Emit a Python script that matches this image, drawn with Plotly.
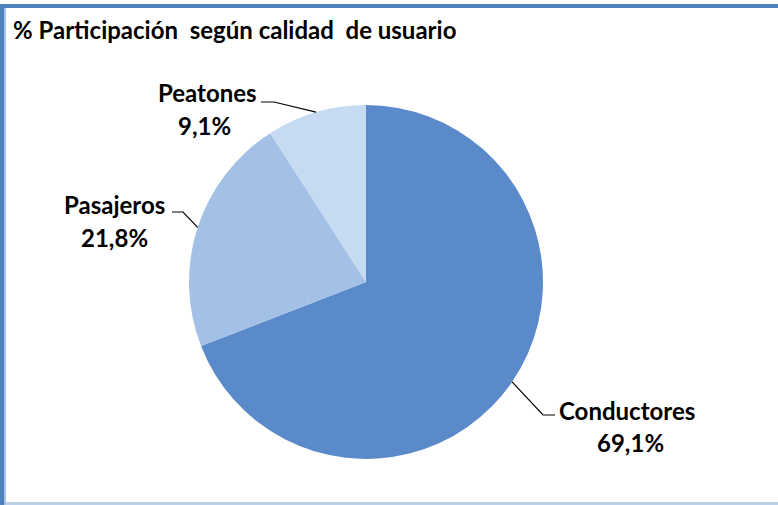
import math
import plotly.graph_objects as go

# ---- data ----
categories = ["Conductores", "Pasajeros", "Peatones"]
values = [69.1, 21.8, 9.1]
pct_labels = ["69,1%", "21,8%", "9,1%"]
title_text = "% Participación\u00a0 según calidad\u00a0 de usuario"

# ---- style ----
W, H = 778, 505
colors = ["#5A8ACA", "#A3C0E6", "#C6DAF2"]
CX, CY, R = 366, 282, 177  # pie centre / radius in px (layout)
FONT = "Lato"
FS = 24
# label styling per slice: elbow point, tail end, name centre, pct centre (px)
label_style = {
    "Conductores": dict(elbow=(543, 415), tail=(555, 415), name=(627, 410), pct=(630, 442)),
    "Pasajeros": dict(elbow=(183, 212), tail=(172, 212), name=(115, 204), pct=(115, 237)),
    "Peatones": dict(elbow=(274, 102), tail=(261, 102), name=(207, 93), pct=(204, 125)),
}


def px(x):
    return x / W


def py(y):
    return 1 - y / H


fig = go.Figure(go.Pie(
    labels=categories,
    values=values,
    sort=False,
    direction="clockwise",
    rotation=0,
    marker=dict(colors=colors, line=dict(color="white", width=0)),
    textinfo="none",
    hoverinfo="label+percent",
    showlegend=False,
    domain=dict(x=[px(CX - R), px(CX + R)], y=[py(CY + R), py(CY - R)]),
))

shapes = []
annotations = []
total = sum(values)
cum = 0.0
for cat, val, pl in zip(categories, values, pct_labels):
    mid = (cum + val / 2) / total * 2 * math.pi
    cum += val
    ex = CX + R * math.sin(mid)
    ey = CY - R * math.cos(mid)
    st = label_style[cat]
    pts = [(ex, ey), st["elbow"], st["tail"]]
    path = "M " + " L ".join(f"{px(x)},{py(y)}" for x, y in pts)
    shapes.append(dict(type="path", xref="paper", yref="paper", path=path,
                       line=dict(color="black", width=1.2)))
    annotations.append(dict(x=px(st["name"][0]), y=py(st["name"][1]), xref="paper", yref="paper",
                            text=f"<b>{cat}</b>", showarrow=False, xanchor="center", yanchor="middle",
                            font=dict(family=FONT, size=FS, color="black")))
    annotations.append(dict(x=px(st["pct"][0]), y=py(st["pct"][1]), xref="paper", yref="paper",
                            text=f"<b>{pl}</b>", showarrow=False, xanchor="center", yanchor="middle",
                            font=dict(family=FONT, size=FS, color="black")))

# title
annotations.append(dict(x=px(11), y=py(29), xref="paper", yref="paper", text=f"<b>{title_text}</b>",
                        showarrow=False, xanchor="left", yanchor="middle",
                        font=dict(family=FONT, size=FS, color="black")))

# frame borders
shapes += [
    dict(type="rect", xref="paper", yref="paper", x0=0, x1=1, y0=0, y1=py(502),
         fillcolor="#BCD0EA", line=dict(width=0), layer="above"),
    dict(type="rect", xref="paper", yref="paper", x0=0, x1=1, y0=py(8), y1=py(4),
         fillcolor="#4F81BD", line=dict(width=0), layer="above"),
    dict(type="rect", xref="paper", yref="paper", x0=0, x1=px(4), y0=0, y1=py(4),
         fillcolor="#4F81BD", line=dict(width=0), layer="above"),
    dict(type="rect", xref="paper", yref="paper", x0=px(4), x1=px(6), y0=0, y1=py(8),
         fillcolor="#A9C3E6", line=dict(width=0), layer="above"),
]

fig.update_layout(
    width=W, height=H,
    margin=dict(l=0, r=0, t=0, b=0),
    paper_bgcolor="white",
    plot_bgcolor="white",
    shapes=shapes,
    annotations=annotations,
)

fig.write_html(
    "out.html",
    config={"displayModeBar": False},
    post_script="document.body.style.margin='0';document.body.style.overflow='hidden';",
)
